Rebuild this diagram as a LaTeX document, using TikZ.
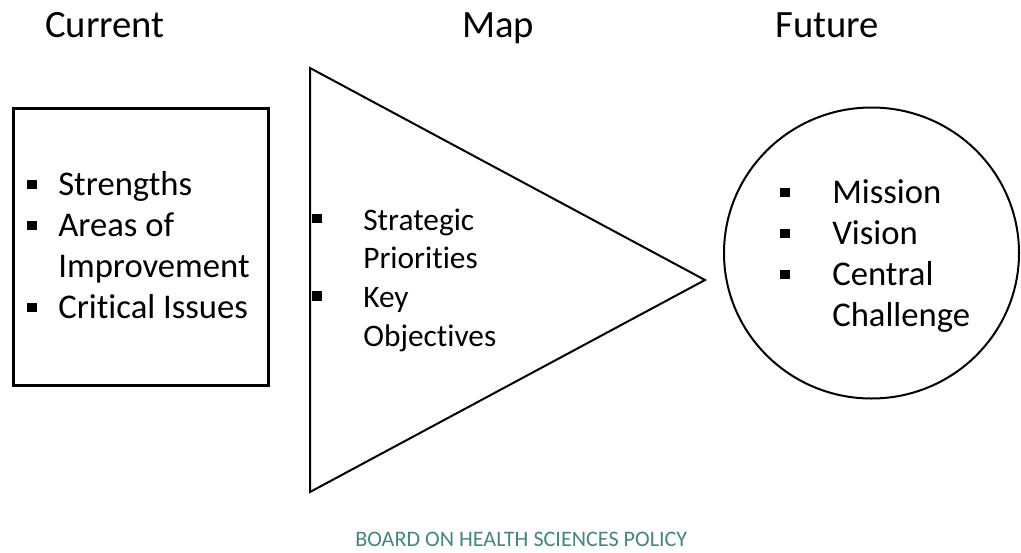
\documentclass[tikz,border=0pt]{standalone}
\usepackage{fontspec}
\setmainfont{Carlito}[Ligatures=NoCommon]
\usetikzlibrary{positioning}
\definecolor{boardteal}{RGB}{72,130,130}
\newcommand{\sqbul}[1]{\rule[#1]{7pt}{7pt}}

\begin{document}
\begin{tikzpicture}[x=0.75pt,y=-0.75pt,
	title/.style={anchor=base west,inner sep=0pt,font=\fontsize{29}{33}\selectfont},
	items/.style={anchor=base west,inner sep=0pt,font=\fontsize{26}{30.75}\selectfont}]
	\useasboundingbox (0,0) rectangle (1021,553);
	% titles
	\node[title] (current) at (45,37) {Current};
	\node[title] (map) at (462,37) {Map};
	\node[title] (future) at (775,37) {Future};
	% shapes
	\draw[line width=2.25pt] (13,108) rectangle (268,385);
	\draw[line width=1.5pt] (310,68)--(705,280)--(310,492)--cycle;
	\draw[line width=1.5pt] (871.5,253) ellipse (147.5 and 145.5);
	% bullet lists
	\node[items] (currentlist) at (27,195) {\begin{tabular}[t]{@{}l@{\hspace{16.3pt}}l@{}}
		\sqbul{4.5pt} & Strengths\\
		\sqbul{4.5pt} & Areas of\\
		& Improvement\\
		\sqbul{4.5pt} & Critical Issues
	\end{tabular}};
	\node[items,font=\fontsize{23.5}{29}\selectfont] (maplist) at (312,230) {\begin{tabular}[t]{@{}l@{\hspace{31.3pt}}l@{}}
		\sqbul{5pt} & Strategic\\
		& Priorities\\
		\sqbul{5pt} & Key\\
		& Objectives
	\end{tabular}};
	\node[items] (futurelist) at (780,203) {\begin{tabular}[t]{@{}l@{\hspace{32pt}}l@{}}
		\sqbul{4.5pt} & Mission\\
		\sqbul{4.5pt} & Vision\\
		\sqbul{4.5pt} & Central\\
		& Challenge
	\end{tabular}};
	% footer
	\node[anchor=base west,inner sep=0pt,text=boardteal,font=\fontsize{16.6}{19}\selectfont] (board) at (355,546) {BOARD ON HEALTH SCIENCES POLICY};
\end{tikzpicture}
\end{document}
